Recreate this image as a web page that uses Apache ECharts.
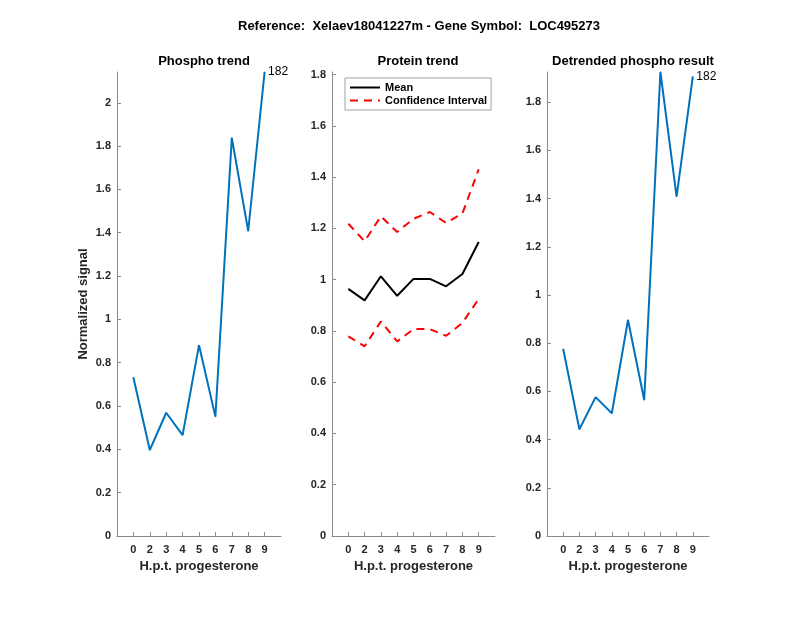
<!DOCTYPE html>
<html>
<head>
<meta charset="utf-8">
<script src="https://cdn.jsdelivr.net/npm/echarts@6/dist/echarts.min.js"></script>
<style>html,body{margin:0;padding:0;background:#fff}#c{width:800px;height:618px}</style>
</head>
<body>
<div id="c"></div>
<script>
const mainTitle = 'Reference:  Xelaev18041227m - Gene Symbol:  LOC495273';
const panelTitles = ['Phospho trend', 'Protein trend', 'Detrended phospho result'];
const categories = ['0', '2', '3', '4', '5', '6', '7', '8', '9'];
const phospho = [0.732, 0.397, 0.569, 0.466, 0.881, 0.551, 1.838, 1.408, 2.142];
const proteinMean = [0.964, 0.919, 1.013, 0.937, 1.003, 1.003, 0.974, 1.022, 1.147];
const proteinUpper = [1.218, 1.150, 1.247, 1.186, 1.237, 1.264, 1.221, 1.258, 1.430];
const proteinLower = [0.779, 0.740, 0.837, 0.759, 0.807, 0.807, 0.781, 0.831, 0.925];
const detrended = [0.776, 0.443, 0.576, 0.509, 0.896, 0.564, 1.925, 1.408, 1.906];
const yTicks1 = [0, 0.2, 0.4, 0.6, 0.8, 1, 1.2, 1.4, 1.6, 1.8, 2];
const yTicks2 = [0, 0.2, 0.4, 0.6, 0.8, 1, 1.2, 1.4, 1.6, 1.8];
const yTicks3 = [0, 0.2, 0.4, 0.6, 0.8, 1, 1.2, 1.4, 1.6, 1.8];
const yMax = [2.142, 1.81, 1.925];
const pointLabel = '182';
const xName = 'H.p.t. progesterone';
const yName = 'Normalized signal';

const FONT = 'Liberation Sans';
const axisColor = '#8a8a8a';
const textColor = '#262626';
const xPos = categories.map((c, i) => i + 1);

const grids = [
  { left: 117, width: 164, top: 72, bottom: 82 },
  { left: 332, width: 163, top: 72, bottom: 82 },
  { left: 547, width: 162, top: 72, bottom: 82 }
];

function xAxis(gi) {
  return {
    type: 'value', gridIndex: gi, min: 0, max: 10,
    name: xName, nameLocation: 'middle', nameGap: 23,
    nameTextStyle: { fontFamily: FONT, fontSize: 13, fontWeight: 'bold', color: textColor },
    axisLine: { show: true, lineStyle: { color: axisColor, width: 1 } },
    axisTick: { show: true, inside: true, length: 4, customValues: xPos, lineStyle: { color: axisColor } },
    axisLabel: { customValues: xPos, margin: 8, formatter: v => categories[Math.round(v) - 1] || '',
      fontFamily: FONT, fontSize: 11, fontWeight: 'bold', color: textColor },
    splitLine: { show: false }
  };
}
function yAxis(gi, ticks, max, withName) {
  return {
    type: 'value', gridIndex: gi, min: 0, max: max,
    name: withName ? yName : '', nameLocation: 'middle', nameGap: 27, nameRotate: 90,
    nameTextStyle: { fontFamily: FONT, fontSize: 13, fontWeight: 'bold', color: textColor },
    axisLine: { show: true, lineStyle: { color: axisColor, width: 1 } },
    axisTick: { show: true, inside: true, length: 4, customValues: ticks, lineStyle: { color: axisColor } },
    axisLabel: { customValues: ticks, margin: 6, formatter: v => String(+v.toFixed(1)),
      fontFamily: FONT, fontSize: 11, fontWeight: 'bold', color: textColor },
    splitLine: { show: false }
  };
}
function pts(arr) {
  return arr.map((v, i) => [xPos[i], v]);
}

const blue = '#0072BD';
function labelledLine(name, data, xi) {
  return {
    type: 'line', name: name, xAxisIndex: xi, yAxisIndex: xi,
    data: data.map((v, i) => {
      const item = { value: [xPos[i], v] };
      if (i === data.length - 1) {
        item.label = { show: true, position: 'right', distance: 3, formatter: pointLabel,
          fontFamily: FONT, fontSize: 12, color: '#000' };
      }
      return item;
    }),
    symbol: 'circle', symbolSize: 1, showSymbol: true,
    lineStyle: { color: blue, width: 2 }, itemStyle: { color: blue }
  };
}

const option = {
  animation: false,
  backgroundColor: '#fff',
  title: [
    { text: mainTitle, left: 414, top: 15, textAlign: 'center',
      textStyle: { fontFamily: FONT, fontSize: 13, fontWeight: 'bold', color: '#000' } },
    { text: panelTitles[0], left: 199, top: 50, textAlign: 'center',
      textStyle: { fontFamily: FONT, fontSize: 13, fontWeight: 'bold', color: '#000' } },
    { text: panelTitles[1], left: 413, top: 50, textAlign: 'center',
      textStyle: { fontFamily: FONT, fontSize: 13, fontWeight: 'bold', color: '#000' } },
    { text: panelTitles[2], left: 628, top: 50, textAlign: 'center',
      textStyle: { fontFamily: FONT, fontSize: 13, fontWeight: 'bold', color: '#000' } }
  ],
  legend: {
    data: ['Mean', 'Confidence Interval'],
    orient: 'vertical', left: 345, top: 78,
    padding: [4, 4, 4, 4], itemGap: 2, itemWidth: 30, itemHeight: 12,
    itemStyle: { opacity: 0 },
    backgroundColor: '#fff', borderColor: '#a0a0a0', borderWidth: 1, borderRadius: 0,
    textStyle: { fontFamily: FONT, fontSize: 11, fontWeight: 'bold', color: '#000' }
  },
  grid: grids,
  xAxis: [xAxis(0), xAxis(1), xAxis(2)],
  yAxis: [yAxis(0, yTicks1, yMax[0], true), yAxis(1, yTicks2, yMax[1], false), yAxis(2, yTicks3, yMax[2], false)],
  series: [
    labelledLine('Phospho', phospho, 0),
    { type: 'line', name: 'Mean', xAxisIndex: 1, yAxisIndex: 1, data: pts(proteinMean),
      symbol: 'none', lineStyle: { color: '#000', width: 2 }, itemStyle: { color: '#000' } },
    { type: 'line', name: 'Confidence Interval', xAxisIndex: 1, yAxisIndex: 1, data: pts(proteinUpper),
      symbol: 'none', lineStyle: { color: '#ff0000', width: 2, type: [8, 6] }, itemStyle: { color: '#ff0000' } },
    { type: 'line', name: 'Confidence Interval', xAxisIndex: 1, yAxisIndex: 1, data: pts(proteinLower),
      symbol: 'none', lineStyle: { color: '#ff0000', width: 2, type: [8, 6] }, itemStyle: { color: '#ff0000' } },
    labelledLine('Detrended', detrended, 2)
  ]
};
const chart = echarts.init(document.getElementById('c'), null, { renderer: 'canvas' });
chart.setOption(option);
</script>
</body>
</html>
